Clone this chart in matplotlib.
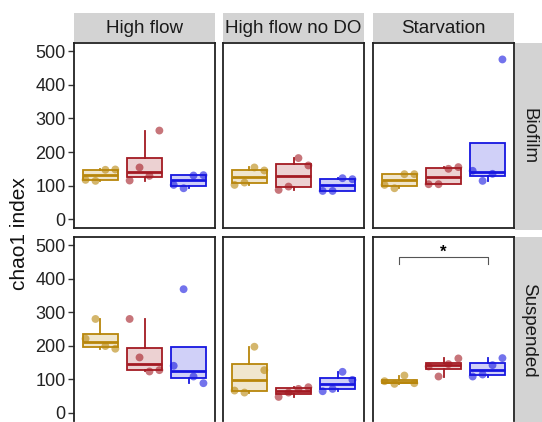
import numpy as np
import matplotlib.pyplot as plt
from matplotlib.patches import Rectangle

plt.rcParams['font.family'] = ['Liberation Sans', 'DejaVu Sans']

# Datos
conditions = ['High flow', 'High flow no DO', 'Starvation']
habitats = ['Biofilm', 'Suspended']
colors = ['#B8860B', '#A31A22', '#1616E0']

# chao1 values, 4 replicates per group (order = replicate position)
biofilm = {
    'High flow':       [[117, 114, 147, 148], [115, 154, 129, 264], [102, 92, 130, 131]],
    'High flow no DO': [[102, 109, 154, 145], [87, 97, 182, 160], [84, 84, 122, 119]],
    'Starvation':      [[102, 92, 134, 134], [104, 104, 150, 155], [144, 114, 135, 476]],
}
suspended = {
    'High flow':       [[221, 280, 199, 191], [280, 165, 123, 127], [140, 369, 108, 88]],
    'High flow no DO': [[66, 60, 197, 127], [47, 60, 71, 76], [64, 71, 122, 98]],
    'Starvation':      [[94, 86, 111, 88], [138, 108, 145, 162], [108, 114, 142, 163]],
}
data = {'Biofilm': biofilm, 'Suspended': suspended}
rep_offsets = [-0.3375, -0.1125, 0.1125, 0.3375]
yticks = [0, 100, 200, 300, 400, 500]

W, H = 542, 422
fig = plt.figure(figsize=(W / 100, H / 100), dpi=100)

col_x = [(74, 215), (223, 364), (373, 514)]
row_y = [(43, 227.5), (237, 421)]

def px_axes(x0, x1, y0, y1):
    return fig.add_axes([x0 / W, 1 - y1 / H, (x1 - x0) / W, (y1 - y0) / H])

for r, hab in enumerate(habitats):
    for c, cond in enumerate(conditions):
        ax = px_axes(col_x[c][0], col_x[c][1], row_y[r][0], row_y[r][1])
        groups = data[hab][cond]
        for g, vals in enumerate(groups):
            col = colors[g]
            bp = ax.boxplot([vals], positions=[g + 1], widths=0.78, patch_artist=True,
                            showfliers=False, whis=1.5, showcaps=False)
            for b in bp['boxes']:
                b.set_facecolor((*plt.matplotlib.colors.to_rgb(col), 0.2))
                b.set_edgecolor(col)
                b.set_linewidth(1.3)
            for m in bp['medians']:
                m.set_color(col)
                m.set_linewidth(2)
            for w in bp['whiskers']:
                w.set_color(col)
                w.set_linewidth(1.3)
            xs = [g + 1 + o for o in rep_offsets]
            ax.scatter(xs, vals, s=32, color=col, alpha=0.6, edgecolors='none', zorder=3)
        ax.set_xlim(0.4, 3.6)
        ax.set_ylim(-25, 525)
        ax.set_xticks([])
        for sp in ax.spines.values():
            sp.set_linewidth(1.3)
            sp.set_color('#222222')
        if r == 1:
            # bottom edge of the lower panels is cut off in the original
            ax.spines['bottom'].set_visible(False)
        if c == 0:
            ax.set_yticks(yticks)
            ax.tick_params(axis='y', labelsize=13, length=4, width=1, color='#333333',
                           labelcolor='#222222', pad=2)
        else:
            ax.set_yticks([])
        if hab == 'Suspended' and cond == 'Starvation':
            ax.plot([1, 1, 3, 3], [444, 466, 466, 444], color='#555555', lw=0.8)
            ax.text(2, 478, '*', ha='center', va='center', fontsize=12, fontweight='bold')

# strips (top)
for c, cond in enumerate(conditions):
    sax = px_axes(col_x[c][0], col_x[c][1], 13, 42)
    sax.add_patch(Rectangle((0, 0), 1, 1, color='#D3D3D3', transform=sax.transAxes))
    sax.text(0.5, 0.45, cond, ha='center', va='center', fontsize=13.5, color='#1a1a1a')
    sax.axis('off')

# strips (right)
for r, hab in enumerate(habitats):
    sax = px_axes(515, 545, row_y[r][0], row_y[r][1] + 2)
    sax.add_patch(Rectangle((0, 0), 1, 1, color='#D3D3D3', transform=sax.transAxes))
    sax.text(0.45, 0.5, hab, ha='center', va='center', fontsize=13.5, rotation=-90,
             color='#1a1a1a')
    sax.axis('off')

fig.text(20 / W, 1 - 234 / H, 'chao1 index', rotation=90, ha='center', va='center',
         fontsize=15, color='#111111')

plt.savefig('out.png', dpi=100)
